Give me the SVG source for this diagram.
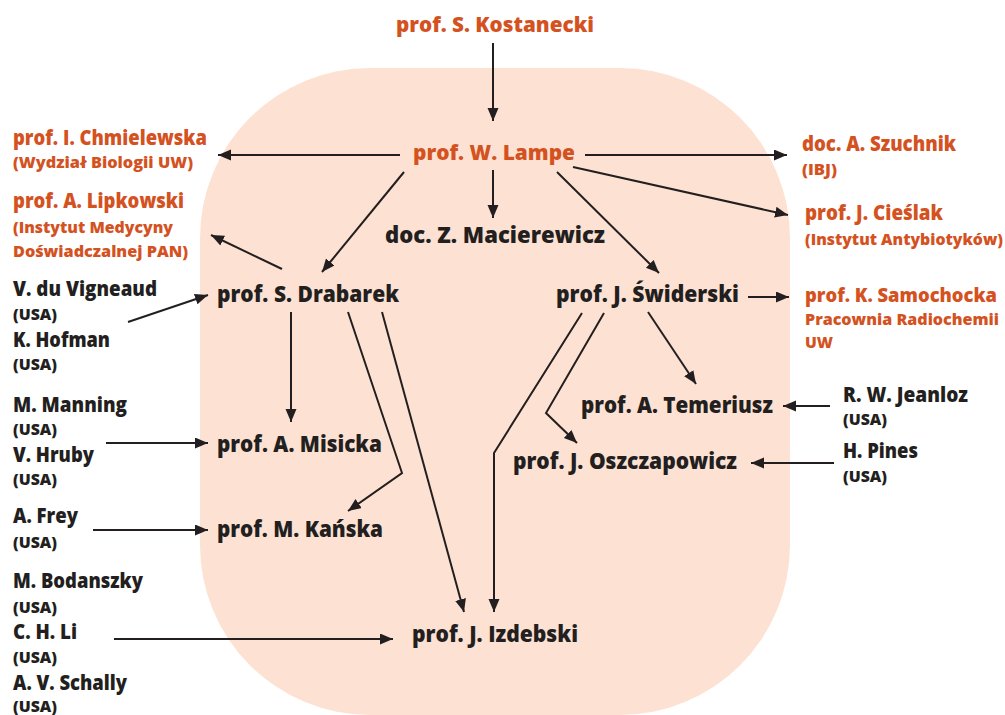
<svg xmlns="http://www.w3.org/2000/svg" width="1005" height="715" viewBox="0 0 1005 715">
<defs>
<marker id="ah" markerUnits="userSpaceOnUse" markerWidth="14" markerHeight="12" refX="13" refY="5.5" orient="auto">
<path d="M0,0 L13,5.5 L0,11 Z" fill="#231f20"/>
</marker>
<style>
text{font-family:"Open Sans","Noto Sans","Liberation Sans",sans-serif;font-weight:800}
.o{fill:#d4521f}
.k{fill:#231f20}
.m{font-size:21px}
.b{font-size:22.5px}
.n{font-size:20.5px}
.s{font-size:16px}
.u{font-size:16px}
.c line,.c polyline{stroke:#231f20;stroke-width:2;fill:none;marker-end:url(#ah)}
</style>
</defs>
<rect x="200" y="68" width="590" height="647" rx="170" ry="170" fill="#fde2d3"/>
<g class="c" id="connectors">
<line x1="493" y1="43" x2="493" y2="121"/>
<line x1="400" y1="155" x2="218" y2="155"/>
<line x1="493" y1="170" x2="493" y2="218"/>
<line x1="404" y1="172" x2="322" y2="272"/>
<line x1="282" y1="269" x2="211" y2="235"/>
<line x1="585" y1="155" x2="787" y2="155"/>
<line x1="573" y1="167" x2="788" y2="215"/>
<line x1="557" y1="172" x2="659" y2="273"/>
<line x1="748" y1="297" x2="789" y2="297"/>
<line x1="648" y1="312" x2="696" y2="384"/>
<polyline points="604,313 546,413 577,443"/>
<polyline points="582,313 494,453 494,612"/>
<line x1="291" y1="312" x2="291" y2="422"/>
<polyline points="348,312 402,473 348,511"/>
<line x1="382" y1="312" x2="464" y2="612"/>
<line x1="128" y1="322" x2="208" y2="295"/>
<line x1="106" y1="443" x2="208" y2="443"/>
<line x1="93" y1="530" x2="208" y2="530"/>
<line x1="114" y1="639" x2="393" y2="639"/>
<line x1="830" y1="406" x2="783" y2="406"/>
<line x1="834" y1="463" x2="751" y2="463"/>
</g>
<g id="kostanecki"><text class="o m" x="396" y="32" textLength="198" lengthAdjust="spacingAndGlyphs">prof. S. Kostanecki</text></g>
<g id="chmielewska"><text class="o m" x="13" y="145" textLength="194" lengthAdjust="spacingAndGlyphs">prof. I. Chmielewska</text><text class="o s" x="13" y="168" textLength="180" lengthAdjust="spacingAndGlyphs">(Wydział Biologii UW)</text></g>
<g id="lipkowski"><text class="o m" x="13" y="208" textLength="171" lengthAdjust="spacingAndGlyphs">prof. A. Lipkowski</text><text class="o s" x="13" y="233" textLength="160" lengthAdjust="spacingAndGlyphs">(Instytut Medycyny</text><text class="o s" x="13" y="257" textLength="175" lengthAdjust="spacingAndGlyphs">Doświadczalnej PAN)</text></g>
<g id="lampe"><text class="o m" x="413" y="160" textLength="162" lengthAdjust="spacingAndGlyphs">prof. W. Lampe</text></g>
<g id="szuchnik"><text class="o m" x="802" y="151" textLength="154" lengthAdjust="spacingAndGlyphs">doc. A. Szuchnik</text><text class="o s" x="802" y="175" textLength="35" lengthAdjust="spacingAndGlyphs">(IBJ)</text></g>
<g id="cieslak"><text class="o m" x="805" y="220" textLength="138" lengthAdjust="spacingAndGlyphs">prof. J. Cieślak</text><text class="o s" x="805" y="245" textLength="198" lengthAdjust="spacingAndGlyphs" style="font-size:15px">(Instytut Antybiotyków)</text></g>
<g id="samochocka"><text class="o" x="805" y="302" textLength="192" lengthAdjust="spacingAndGlyphs" style="font-size:19px">prof. K. Samochocka</text><text class="o s" x="805" y="325" textLength="194" lengthAdjust="spacingAndGlyphs">Pracownia Radiochemii</text><text class="o s" x="805" y="348" textLength="28" lengthAdjust="spacingAndGlyphs">UW</text></g>
<g id="macierewicz"><text class="k b" x="385" y="243" textLength="220" lengthAdjust="spacingAndGlyphs">doc. Z. Macierewicz</text></g>
<g id="drabarek"><text class="k b" x="217" y="302" textLength="182" lengthAdjust="spacingAndGlyphs">prof. S. Drabarek</text></g>
<g id="swiderski"><text class="k b" x="556" y="302" textLength="183" lengthAdjust="spacingAndGlyphs">prof. J. Świderski</text></g>
<g id="temeriusz"><text class="k b" x="581" y="413" textLength="192" lengthAdjust="spacingAndGlyphs">prof. A. Temeriusz</text></g>
<g id="oszczapowicz"><text class="k b" x="513" y="469" textLength="224" lengthAdjust="spacingAndGlyphs">prof. J. Oszczapowicz</text></g>
<g id="misicka"><text class="k b" x="217" y="452" textLength="165" lengthAdjust="spacingAndGlyphs">prof. A. Misicka</text></g>
<g id="kanska"><text class="k b" x="217" y="537" textLength="166" lengthAdjust="spacingAndGlyphs">prof. M. Kańska</text></g>
<g id="izdebski"><text class="k b" x="412" y="642" textLength="166" lengthAdjust="spacingAndGlyphs">prof. J. Izdebski</text></g>
<g id="vigneaud-hofman"><text class="k n" x="13" y="296" textLength="144" lengthAdjust="spacingAndGlyphs">V. du Vigneaud</text><text class="k u" x="13" y="320" textLength="44" lengthAdjust="spacingAndGlyphs">(USA)</text><text class="k n" x="13" y="347" textLength="97" lengthAdjust="spacingAndGlyphs">K. Hofman</text><text class="k u" x="13" y="370" textLength="44" lengthAdjust="spacingAndGlyphs">(USA)</text></g>
<g id="manning-hruby"><text class="k n" x="13" y="412" textLength="114" lengthAdjust="spacingAndGlyphs">M. Manning</text><text class="k u" x="13" y="435" textLength="44" lengthAdjust="spacingAndGlyphs">(USA)</text><text class="k n" x="13" y="462" textLength="81" lengthAdjust="spacingAndGlyphs">V. Hruby</text><text class="k u" x="13" y="485" textLength="44" lengthAdjust="spacingAndGlyphs">(USA)</text></g>
<g id="frey"><text class="k n" x="13" y="523" textLength="65" lengthAdjust="spacingAndGlyphs">A. Frey</text><text class="k u" x="13" y="548" textLength="44" lengthAdjust="spacingAndGlyphs">(USA)</text></g>
<g id="bodanszky-li-schally"><text class="k n" x="13" y="588" textLength="130" lengthAdjust="spacingAndGlyphs">M. Bodanszky</text><text class="k u" x="13" y="613" textLength="44" lengthAdjust="spacingAndGlyphs">(USA)</text><text class="k n" x="13" y="639" textLength="64" lengthAdjust="spacingAndGlyphs">C. H. Li</text><text class="k u" x="13" y="663" textLength="44" lengthAdjust="spacingAndGlyphs">(USA)</text><text class="k n" x="13" y="690" textLength="114" lengthAdjust="spacingAndGlyphs">A. V. Schally</text><text class="k u" x="13" y="712" textLength="44" lengthAdjust="spacingAndGlyphs">(USA)</text></g>
<g id="jeanloz"><text class="k n" x="843" y="402" textLength="125" lengthAdjust="spacingAndGlyphs">R. W. Jeanloz</text><text class="k u" x="843" y="425" textLength="44" lengthAdjust="spacingAndGlyphs">(USA)</text></g>
<g id="pines"><text class="k n" x="843" y="458" textLength="75" lengthAdjust="spacingAndGlyphs">H. Pines</text><text class="k u" x="843" y="482" textLength="44" lengthAdjust="spacingAndGlyphs">(USA)</text></g>
</svg>
